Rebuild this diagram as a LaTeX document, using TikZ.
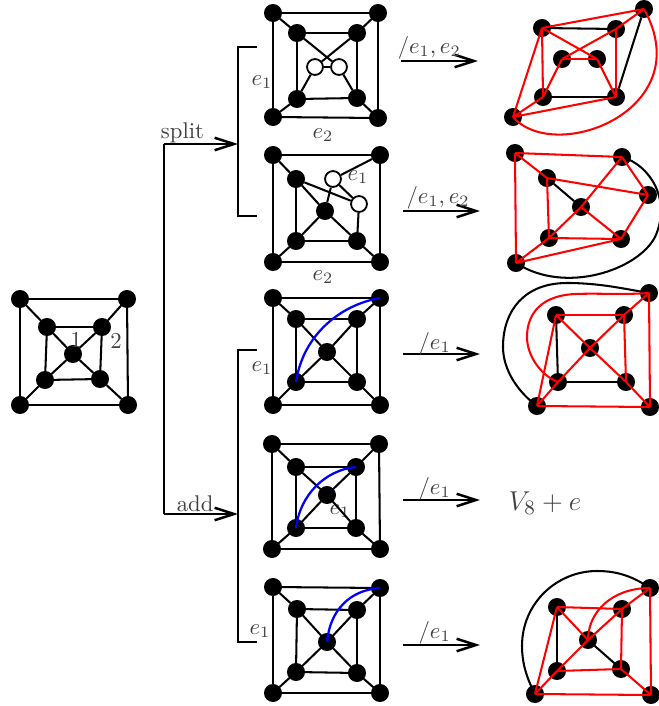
\documentclass[tikz,border=0pt]{standalone}
\usepackage{amsmath}
\usepackage{xcolor}
\usetikzlibrary{calc,positioning,arrows.meta}
\tikzset{
  vertex/.style={circle, fill=black, draw=black, inner sep=0pt, minimum size=7.5pt},
  hollow/.style={circle, fill=white, draw=black, line width=0.8pt, inner sep=0pt, minimum size=7pt},
  myedge/.style={draw, line width=0.9pt},
  rededge/.style={draw=red, line width=0.9pt},
  blueedge/.style={draw=blue, line width=1pt},
  bracket/.style={draw, line width=0.85pt},
  myarrow/.style={draw, line width=0.85pt, -{Straight Barb[length=8.5pt,width=5.5pt,line width=1.1pt]}},
  tag/.style={text=black!75, inner sep=0pt},
}
\begin{document}
\begin{tikzpicture}[x=0.44pt, y=-0.44pt]
  \useasboundingbox (0,0) rectangle (658,706);
  % starting graph
  \node[vertex] (g0o1) at (20,299) {};
  \node[vertex] (g0o2) at (127,299) {};
  \node[vertex] (g0o3) at (128,405) {};
  \node[vertex] (g0o4) at (20,405) {};
  \node[vertex] (g0i1) at (47,327) {};
  \node[vertex] (g0i2) at (102,327) {};
  \node[vertex] (g0i3) at (100,379) {};
  \node[vertex] (g0i4) at (45,380) {};
  \node[vertex] (g0c) at (73,354) {};
  \node[tag] (g0one) at (76,340) {1};
  \node[tag] (g0two) at (116,341) {2};

  % split, first row
  \node[vertex] (g1o1) at (273,13) {};
  \node[vertex] (g1o2) at (378,13) {};
  \node[vertex] (g1o3) at (378,118) {};
  \node[vertex] (g1o4) at (273,117) {};
  \node[vertex] (g1i1) at (297,33) {};
  \node[vertex] (g1i2) at (357,33) {};
  \node[vertex] (g1i3) at (357,98) {};
  \node[vertex] (g1i4) at (297,99) {};
  \node[hollow] (g1a) at (315,67) {};
  \node[hollow] (g1b) at (339,67) {};
  \node[tag] (g1e1) at (262,82) {$e_1$};
  \node[tag] (g1e2) at (323,135) {$e_2$};

  % split, second row
  \node[vertex] (g2o1) at (273,155) {};
  \node[vertex] (g2o2) at (380,155) {};
  \node[vertex] (g2o3) at (380,262) {};
  \node[vertex] (g2o4) at (273,262) {};
  \node[vertex] (g2i1) at (296,179) {};
  \node[vertex] (g2i3) at (357,241) {};
  \node[vertex] (g2i4) at (296,241) {};
  \node[vertex] (g2c) at (325,211) {};
  \node[hollow] (g2a) at (333,179) {};
  \node[hollow] (g2b) at (359,204) {};
  \node[tag] (g2e1) at (358,177) {$e_1$};
  \node[tag] (g2e2) at (323,277) {$e_2$};

  % add, three rows
  \node[vertex] (g3o1) at (273,298) {};
  \node[vertex] (g3o2) at (380,298) {};
  \node[vertex] (g3o3) at (380,405) {};
  \node[vertex] (g3o4) at (273,405) {};
  \node[vertex] (g3i1) at (296,319) {};
  \node[vertex] (g3i2) at (357,319) {};
  \node[vertex] (g3i3) at (357,382) {};
  \node[vertex] (g3i4) at (296,382) {};
  \node[vertex] (g3c) at (327,352) {};
  \node[tag] (g3e1) at (262,368) {$e_1$};

  \node[vertex] (g4o1) at (272,444) {};
  \node[vertex] (g4o2) at (379,444) {};
  \node[vertex] (g4o3) at (380,549) {};
  \node[vertex] (g4o4) at (272,549) {};
  \node[vertex] (g4i1) at (296,467) {};
  \node[vertex] (g4i2) at (356,467) {};
  \node[vertex] (g4i3) at (356,528) {};
  \node[vertex] (g4i4) at (296,528) {};
  \node[vertex] (g4c) at (327,495) {};
  \node[tag] (g4e1) at (340,511) {$e_1$};

  \node[vertex] (g5o1) at (273,587) {};
  \node[vertex] (g5o2) at (380,588) {};
  \node[vertex] (g5o3) at (380,693) {};
  \node[vertex] (g5o4) at (273,693) {};
  \node[vertex] (g5i1) at (297,609) {};
  \node[vertex] (g5i2) at (357,610) {};
  \node[vertex] (g5i3) at (357,673) {};
  \node[vertex] (g5i4) at (296,672) {};
  \node[vertex] (g5c) at (327,642) {};
  \node[tag] (g5e1) at (260,631) {$e_1$};

  % results
  \node[vertex] (h1a) at (644,9) {};
  \node[vertex] (h1b) at (542,28) {};
  \node[vertex] (h1c) at (616,29) {};
  \node[vertex] (h1d) at (562,59) {};
  \node[vertex] (h1e) at (597,59) {};
  \node[vertex] (h1f) at (543,97) {};
  \node[vertex] (h1g) at (616,97) {};
  \node[vertex] (h1h) at (513,117) {};

  \node[vertex] (h2a) at (515,153) {};
  \node[vertex] (h2b) at (622,157) {};
  \node[vertex] (h2c) at (547,178) {};
  \node[vertex] (h2d) at (581,207) {};
  \node[vertex] (h2e) at (648,195) {};
  \node[vertex] (h2f) at (549,238) {};
  \node[vertex] (h2g) at (621,239) {};
  \node[vertex] (h2h) at (516,263) {};

  \node[vertex] (h3a) at (649,293) {};
  \node[vertex] (h3b) at (556,315) {};
  \node[vertex] (h3c) at (624,315) {};
  \node[vertex] (h3d) at (590,348) {};
  \node[vertex] (h3e) at (558,382) {};
  \node[vertex] (h3f) at (626,382) {};
  \node[vertex] (h3g) at (537,406) {};
  \node[vertex] (h3h) at (650,407) {};

  \node[tag] (h4) at (545,503) {\fontsize{12.5}{15}\selectfont $V_8+e$};

  \node[vertex] (h5a) at (650,588) {};
  \node[vertex] (h5b) at (557,607) {};
  \node[vertex] (h5c) at (622,609) {};
  \node[vertex] (h5d) at (588,640) {};
  \node[vertex] (h5e) at (557,671) {};
  \node[vertex] (h5f) at (621,669) {};
  \node[vertex] (h5g) at (535,694) {};
  \node[vertex] (h5h) at (651,695) {};

  % graph edges
  \foreach \g in {g0,g3,g4,g5}
    \foreach \a/\b in {o1/o2,o2/o3,o3/o4,o4/o1,o1/i1,o2/i2,o3/i3,o4/i4,i1/i2,i2/i3,i3/i4,i4/i1,c/i1,c/i2,c/i3,c/i4}
      \path[myedge] (\g\a) -- (\g\b);
  \foreach \a/\b in {o1/o2,o2/o3,o3/o4,o4/o1,o1/i1,o2/i2,o3/i3,o4/i4,i1/i2,i2/i3,i3/i4,i4/i1,i1/b,i2/a,i3/b,i4/a,a/b}
    \path[myedge] (g1\a) -- (g1\b);
  \foreach \a/\b in {o1/o2,o2/o3,o3/o4,o4/o1,o1/i1,o3/i3,o4/i4,i1/i4,i3/i4,o2/a,a/b,a/c,i1/b,i3/b,c/i1,c/i3,c/i4}
    \path[myedge] (g2\a) -- (g2\b);

  \path[blueedge] (g3i4.center) .. controls (303,335) and (340,305) .. (g3o2.center);
  \path[blueedge] (g4i4.center) .. controls (300,495) and (325,470) .. (g4i2.center);
  \path[blueedge] (g5c.center) .. controls (330,610) and (350,590) .. (g5o2.center);

  % results, black part
  \foreach \a/\b in {h1b/h1c,h1f/h1g,h1a/h1g,h2c/h2d,h3b/h3e,h3e/h3f,h5b/h5e,h5d/h5f}
    \path[myedge] (\a) -- (\b);
  \path[myedge] (h2b.center) .. controls (650,165) and (672,200) .. (655,237)
    .. controls (638,270) and (565,295) .. (h2h.center);
  \path[myedge] (h3a.center) .. controls (625,289) and (600,283) .. (567,283)
    .. controls (525,283) and (503,310) .. (503,347)
    .. controls (503,370) and (518,392) .. (h3g.center);
  \path[myedge] (h5g.center) .. controls (525,675) and (522,660) .. (522,646)
    .. controls (522,603) and (557,571) .. (597,571)
    .. controls (620,571) and (635,578) .. (h5a.center);

  % results, red part
  \foreach \a/\b in {h1b/h1a,h1b/h1h,h1b/h1f,h1b/h1e,h1a/h1c,h1c/h1d,h1c/h1g,h1d/h1e,h1d/h1f,h1f/h1h,h1e/h1g,h1g/h1h,
      h2a/h2b,h2a/h2c,h2a/h2h,h2c/h2e,h2c/h2f,h2b/h2e,h2e/h2g,h2f/h2g,h2h/h2g,h2h/h2f,h2f/h2d,h2d/h2b,h2d/h2g,
      h3b/h3c,h3c/h3f,h3a/h3c,h3c/h3d,h3d/h3e,h3e/h3g,h3b/h3d,h3d/h3f,h3f/h3h,h3a/h3h,h3g/h3h,h3b/h3g,
      h5b/h5c,h5c/h5f,h5b/h5g,h5g/h5h,h5h/h5a,h5f/h5h,h5e/h5f,h5b/h5d,h5a/h5c,h5c/h5d,h5d/h5e,h5e/h5g}
    \path[rededge] (\a.center) -- (\b.center);
  \path[rededge] (h1h.center) .. controls (555,165) and (700,110) .. (h1a.center);
  \path[rededge] (h3a.center) .. controls (620,295) and (600,293) .. (575,294)
    .. controls (535,296) and (527,320) .. (527,337)
    .. controls (527,355) and (540,375) .. (h3e.center);
  \path[rededge] (h5d.center) .. controls (588,612) and (612,588) .. (h5a.center);

  % brackets
  \coordinate (topA) at (257,47);
  \coordinate (topB) at (238,47);
  \coordinate (topC) at (238,216);
  \coordinate (topD) at (257,216);
  \path[bracket] (topA) -- (topB) -- (topC) -- (topD);
  \coordinate (lowA) at (257,350);
  \coordinate (lowB) at (238,350);
  \coordinate (lowC) at (238,642);
  \coordinate (lowD) at (257,642);
  \path[bracket] (lowA) -- (lowB) -- (lowC) -- (lowD);
  \coordinate (trunkA) at (164,144);
  \coordinate (trunkB) at (164,514);
  \path[bracket] (trunkA) -- (trunkB);
  \path[myarrow] (trunkA) -- node[tag, pos=0.25, yshift=5pt] (splitlabel) {split} (238,144);
  \path[myarrow] (trunkB) -- node[tag, pos=0.42, yshift=4.5pt] (addlabel) {add} (238,514);

  % arrows to results
  \coordinate (arr1) at (401,61);
  \coordinate (arr2) at (403,211);
  \coordinate (arr3) at (403,354);
  \coordinate (arr4) at (403,500);
  \coordinate (arr5) at (403,645);
  \path[myarrow] (arr1) -- ++(77,0) node[tag, midway, yshift=6pt, xshift=-4.5pt] (lab1) {$/e_1,e_2$};
  \path[myarrow] (arr2) -- ++(77,0) node[tag, midway, yshift=6pt, xshift=-1.5pt] (lab2) {$/e_1,e_2$};
  \path[myarrow] (arr3) -- ++(77,0) node[tag, midway, yshift=4.5pt, xshift=-3pt] (lab3) {$/e_1$};
  \path[myarrow] (arr4) -- ++(77,0) node[tag, midway, yshift=5pt, xshift=-3pt] (lab4) {$/e_1$};
  \path[myarrow] (arr5) -- ++(77,0) node[tag, midway, yshift=5.5pt, xshift=-3pt] (lab5) {$/e_1$};
\end{tikzpicture}
\end{document}
